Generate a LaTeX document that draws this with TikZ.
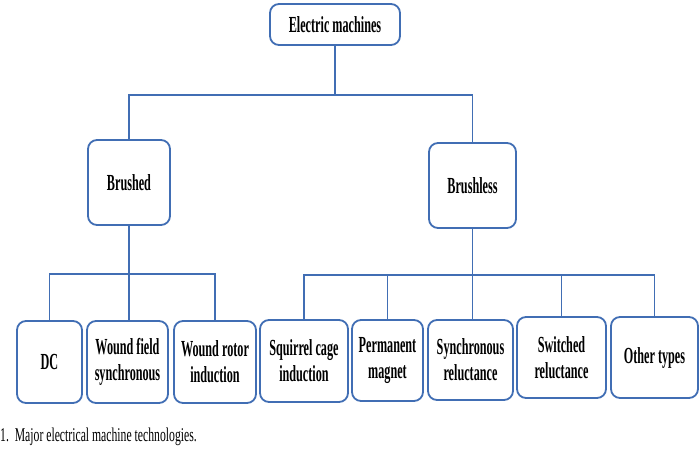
\documentclass[tikz,border=0pt]{standalone}
\usepackage{fontspec}
\setmainfont{Liberation Serif}[FakeStretch=0.53]
\newfontfamily\capfont{Liberation Serif}[FakeStretch=0.6]
\definecolor{boxblue}{RGB}{65,110,180}
\begin{document}
\begin{tikzpicture}[x=1pt,y=-1pt,
  box/.style={draw=boxblue, line width=1.8pt, rounded corners=9pt, fill=white,
    align=center, inner sep=0pt, font=\bfseries\fontsize{23}{26}\selectfont},
  link/.style={draw=boxblue, line width=1.8pt}]
\useasboundingbox (0,0) rectangle (700,450);
\node[box, minimum width=130pt, minimum height=41pt] (top) at (335,24.5) {Electric machines};
\node[box, minimum width=82pt, minimum height=85pt] (brushed) at (129,182.5) {Brushed};
\node[box, minimum width=87pt, minimum height=85pt] (brushless) at (472.5,185.5) {Brushless};
\node[box, minimum width=65pt, minimum height=82pt] (dc) at (49.5,362) {DC};
\node[box, minimum width=81pt, minimum height=82pt] (wfs) at (127.5,362) {Wound field\\synchronous};
\node[box, minimum width=82pt, minimum height=82pt] (wri) at (215,362) {Wound rotor\\induction};
\node[box, minimum width=88pt, minimum height=82pt] (sci) at (304,361) {Squirrel cage\\induction};
\node[box, minimum width=71pt, minimum height=81pt] (pm) at (387.5,360.5) {Permanent\\magnet};
\node[box, minimum width=85pt, minimum height=80pt] (sr) at (470.5,360) {Synchronous\\reluctance};
\node[box, minimum width=89pt, minimum height=81pt] (swr) at (561.5,357.5) {Switched\\reluctance};
\node[box, minimum width=87pt, minimum height=81pt] (other) at (654.5,357.5) {Other types};
\coordinate (h1) at (0,95);
\coordinate (h2) at (0,274);
\coordinate (h3) at (0,275);
% level 1
\draw[link] (top.south) -- (top.south |- h1);
\draw[link] (brushed.north) |- (brushless.north |- h1) -- (brushless.north);
% brushed subtree
\draw[link] (brushed.south) -- (brushed.south |- wfs.north);
\draw[link] (dc.north) |- (wri.north |- h2) -- (wri.north);
% brushless subtree
\draw[link] (brushless.south) -- (brushless.south |- sr.north);
\draw[link] (sci.north) |- (other.north |- h3) -- (other.north);
\draw[link] (pm.north) -- (pm.north |- h3);
\draw[link] (swr.north) -- (swr.north |- h3);
% caption
\node[anchor=west, inner sep=0pt, font=\capfont\fontsize{19.5}{22}\selectfont] (cap) at (0,437) {1.\ \ Major electrical machine technologies.};
\end{tikzpicture}
\end{document}
